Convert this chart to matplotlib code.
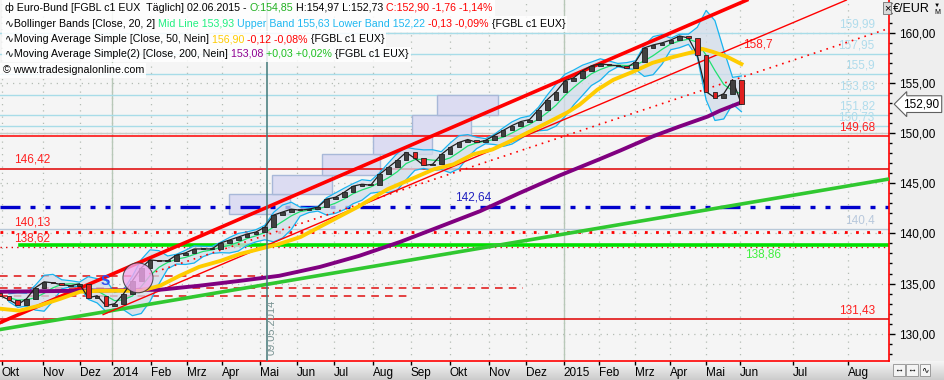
import numpy as np
import pandas as pd
import matplotlib
matplotlib.use("Agg")
import matplotlib.pyplot as plt
from matplotlib.patches import Rectangle, Ellipse

plt.rcParams['font.family'] = ['Liberation Sans', 'DejaVu Sans']

# weekly closes, x = trading day since 1 Oct 2013
close = [133.78, 133.39, 132.89, 133.48, 134.58, 135.17, 135.07, 134.88, 134.78, 134.97,
         133.58, 133.78, 132.79, 132.99, 133.98, 135.27, 136.56, 137.36, 137.26, 137.26,
         137.85, 138.05, 138.45, 138.45, 138.45, 139.05, 139.34, 139.64, 139.94, 140.14,
         140.63, 141.83, 142.13, 142.42, 142.32, 142.42, 142.62, 143.42, 143.61, 144.11,
         144.71, 144.91, 144.81, 145.90, 146.59, 147.29, 148.08, 147.49, 146.79, 146.89,
         147.88, 148.58, 149.08, 149.37, 149.08, 149.28, 149.77, 150.27, 150.76, 151.16,
         151.36, 152.35, 153.35, 154.14, 155.23, 155.53, 156.23, 156.72, 156.92, 156.82,
         156.72, 156.52, 157.12, 158.51, 158.81, 159.01, 159.30, 159.70, 159.50, 157.81,
         154.14, 153.54, 153.94, 155.33, 152.90]
first_open = 134.10
last_bar = 417

sma50_x = [0, 11, 22, 34, 45, 56, 79, 90, 101, 112, 124, 135, 146, 157, 169, 186, 202, 218, 231,
           244, 255, 266, 277, 289, 308, 319, 326, 336, 345, 356, 367, 379, 390, 395, 401, 409, 417]
sma50 = [132.49, 132.29, 132.79, 133.48, 134.18, 134.28, 134.28, 134.78, 135.77, 136.66, 137.26,
         137.95, 138.45, 138.95, 139.64, 141.23, 142.72, 144.41, 145.40, 146.40, 146.89, 147.88,
         148.38, 149.37, 151.06, 152.06, 152.85, 154.34, 155.33, 156.13, 157.02, 157.62, 158.11,
         158.41, 158.11, 157.62, 156.90]

sma200_x = [0, 45, 90, 112, 135, 157, 180, 202, 225, 244, 270, 292, 315, 337, 349, 367, 382, 398, 405, 417]
sma200 = [134.18, 134.28, 134.38, 134.78, 135.27, 135.77, 136.66, 137.76, 139.15, 140.44, 142.22,
          144.01, 145.80, 147.39, 148.28, 149.67, 150.66, 151.66, 152.25, 153.08]

# trend lines (start bar, start price, end bar, end price)
red_thick = (0, 131.10, 420, 163.28)
red_thin = (58, 131.90, 476, 163.28)
red_dotted = (84, 135.97, 499, 160.40)
green_trend = (0, 130.41, 499, 145.40)

light_levels = [159.99, 157.95, 155.9, 153.83, 151.82, 150.73]
light_labels = ['159,99', '157,95', '155,9', '153,83', '151,82', '150,73']
box_left = [129, 153, 181, 210, 232, 246]
box_right = [163, 187, 214, 243, 265, 280]
box_levels = [141.9, 143.9, 145.85, 147.9, 149.85, 151.85, 153.85]

dash_levels = [135.77, 134.58, 133.78]
dash_end = [148, 294, 232]

month_pos = [1, 24, 45, 63, 85, 105, 125, 146, 167, 188, 210, 231, 253, 275, 296,
             317, 337, 357, 377, 397, 416, 446, 477]
month_lbl = ['Okt', 'Nov', 'Dez', '2014', 'Feb', 'Mrz', 'Apr', 'Mai', 'Jun', 'Jul', 'Aug', 'Sep',
             'Okt', 'Nov', 'Dez', '2015', 'Feb', 'Mrz', 'Apr', 'Mai', 'Jun', 'Jul', 'Aug']
year_pos = [63, 317]
marker_day = 150

fig = plt.figure(figsize=(9.45, 3.8), dpi=100, facecolor='#eeeeee')

# bottom band gradient
bg = fig.add_axes([0, 0, 1, 0.05], zorder=-5)
bg.imshow(np.linspace(0.96, 0.80, 20).reshape(-1, 1), cmap='gray', vmin=0, vmax=1,
          aspect='auto', extent=[0, 1, 0, 1])
bg.axis('off')

ax = fig.add_axes([0, 0.05, 889 / 945, 0.95], facecolor='#f5f5f5')
ax.set_xlim(0, 500)
ax.set_ylim(127.27, 163.29)

# grid
for p in range(130, 165, 5):
    ax.axhline(p, color='#b4bcb4', lw=0.9, ls=(0, (1, 4)), zorder=0)
for m in month_pos:
    ax.axvline(m, color='#b4bcb4', lw=0.9, ls=(0, (1, 4)), zorder=0)
for yp in year_pos:
    ax.axvline(yp, color='#b8c8b8', lw=1, zorder=0)
ax.axhline(150.0, color='#c8ccc8', lw=1, zorder=0)

# level lines
for lv, lb in zip(light_levels, light_labels):
    ax.axhline(lv, color='#a8dce8', lw=1, zorder=1)
    ax.text(492, lv + 0.25, lb, color='#b0dcec', fontsize=8.5, ha='right', va='bottom')
ax.axhline(140.4, color='#b8c8d8', lw=1, zorder=1)
ax.text(492, 140.65, '140,4', color='#b8c8dc', fontsize=8.5, ha='right', va='bottom')

for i in range(len(box_left)):
    ax.add_patch(Rectangle((box_left[i], box_levels[i]), box_right[i] - box_left[i],
                           box_levels[i + 1] - box_levels[i], facecolor='#dcdcf2',
                           edgecolor='#a8b8d8', lw=1, zorder=1))

for lv, xe in zip(dash_levels, dash_end):
    ax.plot([0, xe], [lv, lv], color='#e01010', lw=1.1, ls=(0, (5, 4)), zorder=2)

ax.axhline(149.68, color='#ff0000', lw=1.1, zorder=2)
ax.text(492, 149.95, '149,68', color='#ff2020', fontsize=8.5, ha='right', va='bottom')
ax.axhline(146.42, color='#e00000', lw=1.1, zorder=2)
ax.text(8, 146.75, '146,42', color='#ff2020', fontsize=8.5, ha='left', va='bottom')
ax.axhline(142.64, color='#0000cc', lw=2.4, ls=(0, (6, 3, 1.5, 3, 1.5, 3)), zorder=2)
ax.text(256, 143.0, '142,64', color='#2020c0', fontsize=8.5, ha='left', va='bottom')
ax.axhline(140.13, color='#ff0000', lw=2, ls=(0, (1, 3)), zorder=2)
ax.text(8, 140.45, '140,13', color='#ff2020', fontsize=8.5, ha='left', va='bottom')
ax.axhline(138.62, color='#e00000', lw=1, ls=(0, (1, 3)), zorder=2)
ax.text(8, 138.92, '138,62', color='#ff2020', fontsize=8.5, ha='left', va='bottom')
ax.plot([11, 499], [138.86, 138.86], color='#00e000', lw=2.6, zorder=2)
ax.text(419, 138.5, '138,86', color='#40f040', fontsize=8.5, ha='left', va='top')
ax.axhline(131.43, color='#e00000', lw=1.1, zorder=2)
ax.text(492, 131.7, '131,43', color='#ff2020', fontsize=8.5, ha='right', va='bottom')

# Bollinger bands from the closes
xb = np.linspace(0, last_bar, len(close))
s = pd.Series(close)
mid = s.rolling(4, min_periods=2).mean()
sd = s.rolling(4, min_periods=2).std(ddof=0)
up = mid + 2 * sd
lo = mid - 2 * sd
ax.fill_between(xb[1:], lo[1:], up[1:], color='#d2dcea', alpha=0.75, lw=0, zorder=3)
ax.plot(xb[1:], up[1:], color='#18b4f0', lw=0.9, zorder=3)
ax.plot(xb[1:], lo[1:], color='#18b4f0', lw=0.9, zorder=3)
ax.plot(xb[1:], mid[1:], color='#20e070', lw=0.9, zorder=3)

# trend lines
for (x0, y0, x1, y1), c, lw, ls in [(green_trend, '#30c830', 2.6, '-'),
                                    (red_thin, '#ff0000', 1.0, '-'),
                                    (red_dotted, '#ff0000', 1.2, (0, (1, 3))),
                                    (red_thick, '#ff0000', 2.6, '-')]:
    ax.plot([x0, x1], [y0, y1], color=c, lw=lw, ls=ls, zorder=4)

ax.plot(sma200_x, sma200, color='#800080', lw=2.8, zorder=4)
ax.plot(sma50_x, sma50, color='#ffcc00', lw=2.8, zorder=4)

# candles
opens = [first_open] + close[:-1]
w = 2.6
ax.plot(xb, close, color='#202020', lw=0.9, zorder=5)
for xi, o, c in zip(xb, opens, close):
    lo_b, hi_b = min(o, c), max(o, c)
    h = max(hi_b - lo_b, 0.12)
    ax.add_patch(Rectangle((xi - w / 2, lo_b), w, h, facecolor='#e02020' if c < o else '#404040',
                           edgecolor='#202020', lw=0.6, zorder=6))

ax.add_patch(Ellipse((77.6, 135.57), 16.9, 2.98, facecolor='#f0a8ec', alpha=0.8,
                     edgecolor='#303030', lw=0.8, zorder=7))
ax.text(59, 135.3, 'S', color='#3050f0', fontsize=10, fontweight='bold', ha='center', va='center', zorder=7)

ax.axvline(marker_day, color='#407878', lw=1.1, zorder=4)
ax.text(marker_day + 2.5, 127.9, '09.05.2014', rotation=90, color='#7a9494', fontsize=8,
        ha='center', va='bottom', zorder=7)
ax.text(418, 158.3, '158,7', color='#ff2020', fontsize=8.5, ha='left', va='bottom')

# axes styling
for sp in ['top', 'left']:
    ax.spines[sp].set_visible(False)
for sp in ['right', 'bottom']:
    ax.spines[sp].set_color('#ff0000')
    ax.spines[sp].set_linewidth(1.2)
ax.yaxis.tick_right()
ax.set_yticks(range(130, 165, 5))
ax.set_yticklabels([f'{v:.2f}'.replace('.', ',') for v in range(130, 165, 5)], fontsize=8.5)
ax.set_yticks(range(128, 164), minor=True)
ax.tick_params(axis='y', which='major', length=4, width=1, pad=3)
ax.tick_params(axis='y', which='minor', length=2.5, width=1)
ax.set_xticks(month_pos)
ax.set_xticklabels(month_lbl, fontsize=8.5)
for t in ax.get_xticklabels():
    t.set_ha('left')
ax.tick_params(axis='x', length=3, width=1, pad=1)

# price box
ax.text(1.016, 152.9, '152,90', transform=ax.get_yaxis_transform(), fontsize=8.5, ha='left',
        va='center', bbox=dict(boxstyle='larrow,pad=0.2', facecolor='white', edgecolor='#606060', lw=0.8),
        clip_on=False, zorder=10)

fig.text(893 / 945, 1 - 9 / 380, '€/EUR', fontsize=9, ha='left', va='center')
fig.text(937 / 945, 1 - 5 / 380, '▼', fontsize=4.5, ha='center', va='center')
fig.text(937 / 945, 1 - 13 / 380, 'M', fontsize=5, ha='center', va='center')
fig.text(887 / 945, 1 - 8 / 380, '×', fontsize=8, ha='center', va='center',
         bbox=dict(boxstyle='square,pad=0.05', facecolor='#d8d8d8', edgecolor='#707070', lw=0.6))
for i, sym in enumerate(['↔', '↔', '∿']):
    fig.text((899 + i * 13) / 945, 1 - 370 / 380, sym, fontsize=6.5, ha='center', va='center',
             bbox=dict(boxstyle='square,pad=0.15', facecolor='#f4f4f4', edgecolor='#909090', lw=0.6))

# header text lines
renderer = fig.canvas.get_renderer()
FW, FH = fig.get_size_inches() * fig.dpi


def put_runs(px, py, runs, size=7.7):
    x = px / FW
    y = 1 - py / FH
    x_start = x
    for txt, col in runs:
        t = fig.text(x, y, txt, color=col, fontsize=size, ha='left', va='center', zorder=20)
        x += t.get_window_extent(renderer).width / FW
    fig.patches.append(Rectangle((x_start - 3 / FW, y - 7.5 / FH), x - x_start + 5 / FW, 15 / FH,
                                 transform=fig.transFigure, facecolor='white', edgecolor='none',
                                 alpha=0.85, zorder=19))


put_runs(5, 8, [('ф Euro-Bund [FGBL c1 EUX  Täglich] 02.06.2015 - ', 'black'), ('O:154,85', '#20b020'),
                (' H:154,97 L:152,73 ', 'black'), ('C:152,90 -1,76 -1,14%', '#ff0000')])
put_runs(5, 24, [('∿Bollinger Bands [Close, 20, 2] ', 'black'), ('Mid Line 153,93 ', '#20f080'),
                 ('Upper Band 155,63 Lower Band 152,22 ', '#20b8f0'), ('-0,13 -0,09%', '#ff0000'),
                 (' {FGBL c1 EUX}', 'black')])
put_runs(5, 39, [('∿Moving Average Simple [Close, 50, Nein] ', 'black'), ('156,90 ', '#ffcc00'),
                 ('-0,12 -0,08%', '#ff0000'), (' {FGBL c1 EUX}', 'black')])
put_runs(5, 54, [('∿Moving Average Simple(2) [Close, 200, Nein] ', 'black'), ('153,08 ', '#900090'),
                 ('+0,03 +0,02%', '#20c020'), (' {FGBL c1 EUX}', 'black')])
put_runs(3, 70, [('© www.tradesignalonline.com', 'black')])

fig.savefig('out.png', dpi=100, facecolor=fig.get_facecolor())
